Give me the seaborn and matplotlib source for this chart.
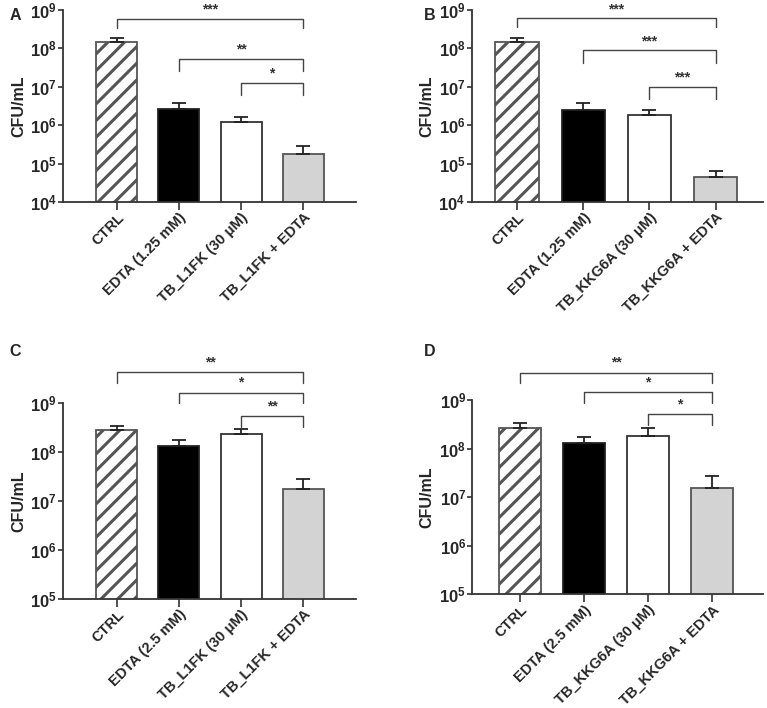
import matplotlib
matplotlib.use("Agg")
import matplotlib.pyplot as plt
import matplotlib.transforms as mtransforms
import seaborn as sns
import numpy as np

sns.set_style("ticks")
plt.rcParams['font.family'] = ['Liberation Sans', 'DejaVu Sans']
plt.rcParams['font.weight'] = 'bold'
plt.rcParams['mathtext.fontset'] = 'custom'
plt.rcParams['mathtext.rm'] = 'Liberation Sans:bold'
plt.rcParams['mathtext.bf'] = 'Liberation Sans:bold'
plt.rcParams['hatch.linewidth'] = 2.2

# panel data (CFU/mL mean and upper error)
labels_a = ['CTRL', 'EDTA (1.25 mM)', 'TB_L1FK (30 \u03bcM)', 'TB_L1FK + EDTA']
mean_a = [1.5e8, 2.6e6, 1.2e6, 1.8e5]
err_a = [0.4e8, 1.1e6, 0.45e6, 1.1e5]
sig_a = ['***', '**', '*']

labels_b = ['CTRL', 'EDTA (1.25 mM)', 'TB_KKG6A (30 \u03bcM)', 'TB_KKG6A + EDTA']
mean_b = [1.5e8, 2.5e6, 1.8e6, 4.5e4]
err_b = [0.4e8, 1.2e6, 0.7e6, 1.9e4]
sig_b = ['***', '***', '***']

labels_c = ['CTRL', 'EDTA (2.5 mM)', 'TB_L1FK (30 \u03bcM)', 'TB_L1FK + EDTA']
mean_c = [2.8e8, 1.35e8, 2.4e8, 1.8e7]
err_c = [0.7e8, 0.45e8, 0.6e8, 1.1e7]
sig_c = ['**', '*', '**']

labels_d = ['CTRL', 'EDTA (2.5 mM)', 'TB_KKG6A (30 \u03bcM)', 'TB_KKG6A + EDTA']
mean_d = [2.7e8, 1.3e8, 1.8e8, 1.55e7]
err_d = [0.7e8, 0.4e8, 0.8e8, 1.2e7]
sig_d = ['**', '*', '*']

fills = ['white', 'black', 'white', '#d3d3d3']
edges = ['#555555', '#222222', '#333333', '#555555']

fig = plt.figure(figsize=(7.67, 7.08), dpi=100)
shift = mtransforms.ScaledTranslation(5 / 100, 0, fig.dpi_scale_trans)


def panel(rect, letter, letter_xy, labels, mean, err, sig, ylo, brackets, xlim, ylab_x):
    ax = fig.add_axes(rect)
    sns.barplot(x=labels, y=mean, ax=ax, width=0.66, color='white')
    ax.set_yscale('log')
    for i, p in enumerate(ax.patches):
        p.set_facecolor(fills[i])
        p.set_edgecolor(edges[i])
        p.set_linewidth(1.3)
        if i == 0:
            p.set_hatch('//')
    ax.errorbar(range(len(mean)), mean, yerr=[np.zeros(len(err)), err],
                fmt='none', ecolor='#222222', elinewidth=1.3, capsize=5, capthick=1.3)
    ax.set_ylim(10 ** ylo, 1e9)
    ax.set_xlim(*xlim)
    ticks = [10 ** k for k in range(ylo, 10)]
    ax.set_yticks(ticks)
    ax.set_yticklabels([r'$\mathrm{10^{%d}}$' % k for k in range(ylo, 10)], fontsize=12)
    ax.minorticks_off()
    ax.set_xticks(range(len(labels)))
    ax.set_xticklabels(labels, rotation=45, ha='right', rotation_mode='anchor',
                       fontsize=10.5, fontweight='bold')
    for lab in ax.get_xticklabels():
        lab.set_transform(lab.get_transform() + shift)
    ax.tick_params(axis='both', width=1.2, color='#333333')
    ax.tick_params(axis='x', length=6, pad=0)
    ax.tick_params(axis='y', length=3.5, pad=1)
    for s in ['left', 'bottom']:
        ax.spines[s].set_linewidth(1.3)
        ax.spines[s].set_color('#333333')
    sns.despine(ax=ax)
    ax.set_ylabel('CFU/mL', fontsize=11.5, fontweight='bold')
    ax.yaxis.set_label_coords(ylab_x, 0.5)
    # significance brackets
    for (x0, y, drop, star) in zip([0, 1, 2], [b[0] for b in brackets], [b[1] for b in brackets], sig):
        ybot = y / 10 ** drop
        ax.plot([x0, x0, 3, 3], [ybot, y, y, ybot], color='#444444', lw=1.0, clip_on=False)
        ax.text((x0 + 3) / 2, y * 10 ** 0.06, star, ha='center', va='bottom',
                fontsize=10, fontweight='bold', color='#333333')
    fig.text(letter_xy[0], letter_xy[1], letter, fontsize=11.5, fontweight='bold',
             ha='left', va='center')
    return ax


panel([0.082, 0.7147, 0.382, 0.2712], 'A', (0.012, 0.978), labels_a, mean_a, err_a, sig_a, 4,
      [(10 ** 8.77, 0.23), (10 ** 7.72, 0.32), (10 ** 7.11, 0.32)], (-0.87, 3.85), -0.126)
panel([0.615, 0.7147, 0.38, 0.2712], 'B', (0.553, 0.978), labels_b, mean_b, err_b, sig_b, 4,
      [(10 ** 8.78, 0.23), (10 ** 7.95, 0.32), (10 ** 7.0, 0.32)], (-0.69, 3.72), -0.129)
panel([0.082, 0.154, 0.382, 0.2764], 'C', (0.012, 0.503), labels_c, mean_c, err_c, sig_c, 5,
      [(10 ** 9.63, 0.22), (10 ** 9.22, 0.22), (10 ** 8.74, 0.22)], (-0.87, 3.85), -0.126)
panel([0.616, 0.1606, 0.379, 0.2745], 'D', (0.553, 0.503), labels_d, mean_d, err_d, sig_d, 5,
      [(10 ** 9.56, 0.22), (10 ** 9.16, 0.22), (10 ** 8.71, 0.22)], (-0.75, 3.8), -0.13)

fig.savefig('out.png', dpi=100)
